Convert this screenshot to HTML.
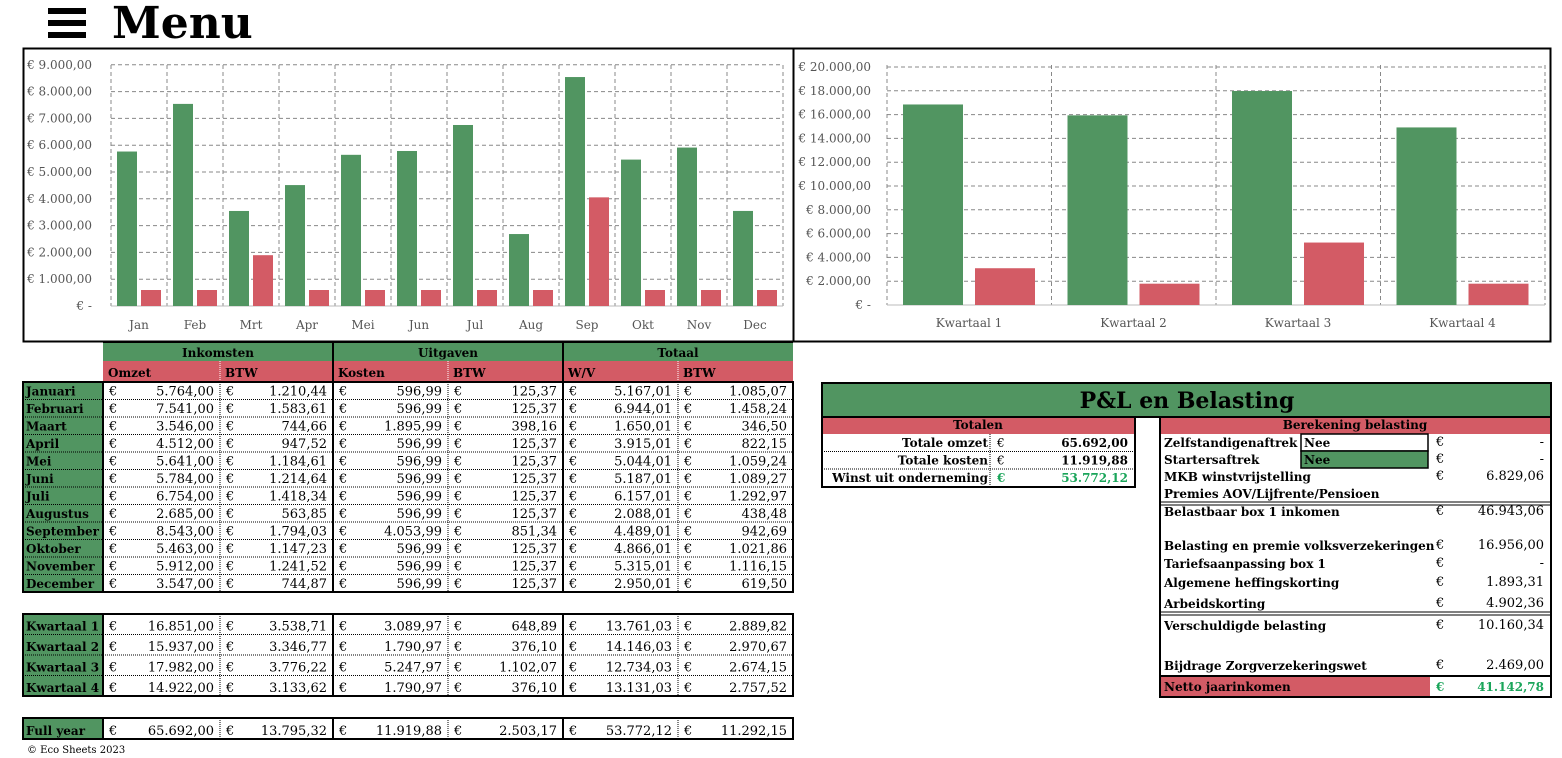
<!DOCTYPE html>
<html><head><meta charset="utf-8">
<style>
body{margin:0;width:1562px;height:758px;background:#fff;position:relative;overflow:hidden;font-family:"DejaVu Serif","Liberation Serif",serif;color:#000}
.a{position:absolute;box-sizing:border-box}
.b{font-weight:bold}
</style></head><body>
<div class="a" style="left:48px;top:8px;width:38px;height:30px">
<div style="height:6px;background:#000;margin-top:0"></div><div style="height:6px;background:#000;margin-top:6px"></div><div style="height:6px;background:#000;margin-top:6px"></div></div>
<div class="a b" style="left:112px;top:-2px;font-size:44px;font-family:'DejaVu Serif',serif">Menu</div>
<svg class="a" style="left:0;top:0" width="1562" height="758" id="s" font-family="DejaVu Serif, serif"></svg>
<script>
const s=document.getElementById('s');let o='';
function R(x,y,w,h,f,st){o+=`<rect x="${x}" y="${y}" width="${w}" height="${h}" fill="${f||'none'}" ${st||''}/>`}
function T(x,y,t,a,fs,f,w){o+=`<text x="${x}" y="${y}" font-size="${fs||12}" text-anchor="${a||'start'}" fill="${f||'#000'}" ${w?'font-weight="bold"':''}>${t}</text>`}
function L(x1,y1,x2,y2,st){o+=`<line x1="${x1}" y1="${y1}" x2="${x2}" y2="${y2}" ${st}/>`}
const G='#519561',RD='#d35b65',dash='stroke="#888" stroke-dasharray="4,3" stroke-width="1"';
R(23.5,48.5,770,293,'none','stroke="#000" stroke-width="2"');R(793.5,48.5,757,293,'none','stroke="#000" stroke-width="2"');
let y0=306,k=26.8/1000;
for(let i=0;i<=9;i++){let y=y0-i*1000*k;if(i)L(111,y,783,y,dash);T(92,y+4,i?'€ '+i+'.000,00':'€ -','end',12,'#555')}
for(let i=0;i<=12;i++){L(111+i*56,65,111+i*56,306,dash)}
const om=[5764,7541,3546,4512,5641,5784,6754,2685,8543,5463,5912,3547],ko=[596.99,596.99,1895.99,596.99,596.99,596.99,596.99,596.99,4053.99,596.99,596.99,596.99];
const mn=['Jan','Feb','Mrt','Apr','Mei','Jun','Jul','Aug','Sep','Okt','Nov','Dec'];
L(111,306,783,306,'stroke="#bbb"');
mn.forEach((m,i)=>{let x=111+i*56;R(x+6,y0-om[i]*k,20,om[i]*k,G);R(x+30,y0-ko[i]*k,20,ko[i]*k,RD);T(x+28,329,m,'middle',12,'#555')});
y0=305;k=23.8/2000;
for(let i=0;i<=10;i++){let y=y0-i*2000*k;if(i)L(887,y,1545,y,dash);T(871,y+4,i?'€ '+(i*2)+'.000,00':'€ -','end',12,'#555')}
for(let i=0;i<=4;i++)L(887+i*164.5,65,887+i*164.5,305,dash);
L(887,305,1545,305,'stroke="#bbb"');
const qo=[16851,15937,17982,14922],qk=[3089.97,1790.97,5247.97,1790.97];
qo.forEach((v,i)=>{let x=887+i*164.5;R(x+16,y0-v*k,60,v*k,G);R(x+88,y0-qk[i]*k,60,qk[i]*k,RD);T(x+82,327,'Kwartaal '+(i+1),'middle',12,'#555')});
const cols=[103,220,333,448,563,678,793];
R(103,343,690,18,G);R(103,361,690,20,RD);
[['Inkomsten',218],['Uitgaven',448],['Totaal',678]].forEach(a=>T(a[1],357,a[0],'middle',12,'#000',1));
['Omzet','BTW','Kosten','BTW','W/V','BTW'].forEach((t,i)=>T(cols[i]+5,377,t,'start',12,'#000',1));
L(333,343,333,381,'stroke="#000" stroke-width="2"');L(563,343,563,381,'stroke="#000" stroke-width="2"');
L(220,361,220,381,'stroke="#fff" stroke-dasharray="1,1"');L(448,361,448,381,'stroke="#fff" stroke-dasharray="1,1"');L(678,361,678,381,'stroke="#fff" stroke-dasharray="1,1"');
R(103,342,690,1,'#000');
function blk(top,rh,labels,data){
 let h=rh*labels.length;R(23,top,80,h,G);R(23,top,770,h,'none','stroke="#000" stroke-width="2"');
 [103,333,563].forEach(x=>L(x,top,x,top+h,'stroke="#000" stroke-width="2"'));
 [220,448,678].forEach(x=>L(x,top,x,top+h,'stroke="#000" stroke-dasharray="1,1"'));
 labels.forEach((l,i)=>{let y=top+i*rh;if(i)L(23,y,793,y,'stroke="#000" stroke-dasharray="1,1"');
  T(26,y+rh-4,l,'start',12,'#000',1);
  data[i].forEach((v,j)=>{T(cols[j]+6,y+rh-4,'€','start',13);T(cols[j+1]-6,y+rh-4,v,'end',13)})});
}
const M=['Januari','Februari','Maart','April','Mei','Juni','Juli','Augustus','September','Oktober','November','December'];
const D=[['5.764,00','1.210,44','596,99','125,37','5.167,01','1.085,07'],['7.541,00','1.583,61','596,99','125,37','6.944,01','1.458,24'],['3.546,00','744,66','1.895,99','398,16','1.650,01','346,50'],['4.512,00','947,52','596,99','125,37','3.915,01','822,15'],['5.641,00','1.184,61','596,99','125,37','5.044,01','1.059,24'],['5.784,00','1.214,64','596,99','125,37','5.187,01','1.089,27'],['6.754,00','1.418,34','596,99','125,37','6.157,01','1.292,97'],['2.685,00','563,85','596,99','125,37','2.088,01','438,48'],['8.543,00','1.794,03','4.053,99','851,34','4.489,01','942,69'],['5.463,00','1.147,23','596,99','125,37','4.866,01','1.021,86'],['5.912,00','1.241,52','596,99','125,37','5.315,01','1.116,15'],['3.547,00','744,87','596,99','125,37','2.950,01','619,50']];
blk(382,17.5,M,D);
blk(614,20.5,['Kwartaal 1','Kwartaal 2','Kwartaal 3','Kwartaal 4'],[['16.851,00','3.538,71','3.089,97','648,89','13.761,03','2.889,82'],['15.937,00','3.346,77','1.790,97','376,10','14.146,03','2.970,67'],['17.982,00','3.776,22','5.247,97','1.102,07','12.734,03','2.674,15'],['14.922,00','3.133,62','1.790,97','376,10','13.131,03','2.757,52']]);
blk(718,21,['Full year'],[['65.692,00','13.795,32','11.919,88','2.503,17','53.772,12','11.292,15']]);
T(27,753,'© Eco Sheets 2023','start',10);
R(822,383,729,34,G,'stroke="#000" stroke-width="2"');T(1187,408,'P&amp;L en Belasting','middle',22,'#000',1);
R(822,417,313,17,RD);T(978,429,'Totalen','middle',12,'#000',1);
R(822,417,313,70,'none','stroke="#000" stroke-width="2"');
[['Totale omzet','65.692,00'],['Totale kosten','11.919,88'],['Winst uit onderneming','53.772,12']].forEach((a,i)=>{let y=434+i*17.5;if(i)L(822,y,1135,y,'stroke="#000" stroke-dasharray="1,1"');
 let gr=i==2;T(988,y+13,a[0],'end',12,'#000',1);T(997,y+13,'€','start',12,gr?'#1aa55a':'#000',gr);T(1128,y+13,a[1],'end',12,gr?'#1aa55a':'#000',1)});
L(990,434,990,487,'stroke="#000" stroke-dasharray="1,1"');
R(1160,417,391,17,RD);T(1355,429,'Berekening belasting','middle',12,'#000',1);
R(1160,417,391,280,'none','stroke="#000" stroke-width="2"');
R(1301,434,127,17,'#fff','stroke="#000" stroke-width="1.5"');R(1301,451,127,17,G,'stroke="#000" stroke-width="1.5"');
T(1304,447,'Nee','start',12,'#000',1);T(1304,464,'Nee','start',12,'#000',1);
const rows=[['Zelfstandigenaftrek',447,'-'],['Startersaftrek',464,'-'],['MKB winstvrijstelling',481,'6.829,06'],['Premies AOV/Lijfrente/Pensioen',498,null],['Belastbaar box 1 inkomen',516,'46.943,06'],['Belasting en premie volksverzekeringen',550,'16.956,00'],['Tariefsaanpassing box 1',568,'-'],['Algemene heffingskorting',587,'1.893,31'],['Arbeidskorting',608,'4.902,36'],['Verschuldigde belasting',630,'10.160,34'],['Bijdrage Zorgverzekeringswet',670,'2.469,00']];
rows.forEach(r=>{T(1164,r[1],r[0],'start',12,'#000',1);if(r[2]){T(1436,r[1]-1,'€','start',13);T(1544,r[1]-1,r[2],'end',13)}});
L(1160,502,1551,502,'stroke="#000"');L(1160,505,1551,505,'stroke="#000"');
L(1160,612,1551,612,'stroke="#000"');L(1160,615,1551,615,'stroke="#000"');
R(1161,677,269,19,RD);T(1164,691,'Netto jaarinkomen','start',12,'#000',1);T(1436,691,'€','start',12,'#1aa55a',1);T(1544,691,'41.142,78','end',12,'#1aa55a',1);
L(1160,676,1551,676,'stroke="#000" stroke-width="2"');
s.innerHTML=o;
</script>
</body></html>
